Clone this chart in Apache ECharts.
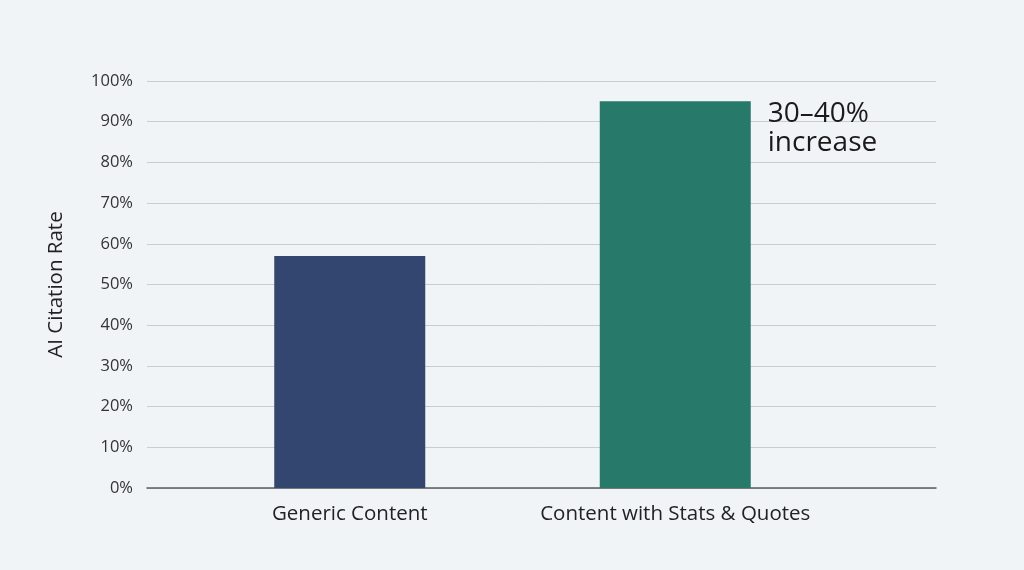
<!DOCTYPE html>
<html>
<head>
<meta charset="utf-8">
<script src="https://cdn.jsdelivr.net/npm/echarts@6/dist/echarts.min.js"></script>
<style>
html,body{margin:0;padding:0;background:#f1f4f7;}
#c{width:1024px;height:570px;}
</style>
</head>
<body>
<div id="c"></div>
<script>
const categories = ['Generic Content', 'Content with Stats & Quotes'];
const values = [57, 95];
const barColors = ['#33466f', '#27796a'];
const yTicks = { min: 0, max: 100, interval: 10 };
const annotation = '30–40%\nincrease';
const yName = 'AI Citation Rate';

const font = '"Open Sans", Lato, sans-serif';
const chart = echarts.init(document.getElementById('c'));
chart.setOption({
  backgroundColor: '#f1f4f7',
  animation: false,
  grid: [
    { left: 147, right: 88, top: 81, bottom: 82 },
    { left: 187, right: 186, top: 81, bottom: 82 }
  ],
  xAxis: [
    { gridIndex: 0, type: 'category', data: [''], axisTick: { show: false }, axisLabel: { show: false },
      axisLine: { lineStyle: { color: '#5a5d63', width: 1.5 } } },
    { gridIndex: 1, type: 'category', data: categories, axisTick: { show: false },
      axisLine: { show: false },
      axisLabel: { interval: 0, hideOverlap: false, color: '#222', fontSize: 20.5, fontFamily: font, margin: 16 } }
  ],
  yAxis: [
    { gridIndex: 0, type: 'value', min: yTicks.min, max: yTicks.max, interval: yTicks.interval,
      axisLabel: { formatter: '{value}%', color: '#333', fontSize: 16.5, fontFamily: font, margin: 14 },
      axisLine: { show: false }, axisTick: { show: false },
      splitLine: { lineStyle: { color: '#c9cdd3', width: 1 } },
      name: yName, nameLocation: 'middle', nameGap: 80,
      nameTextStyle: { color: '#222', fontSize: 20.5, fontFamily: font } },
    { gridIndex: 1, type: 'value', min: yTicks.min, max: yTicks.max, interval: yTicks.interval,
      show: false, splitLine: { show: false } }
  ],
  series: [{
    type: 'bar',
    xAxisIndex: 1, yAxisIndex: 1,
    barWidth: 151,
    data: values.map((v, i) => ({
      value: v,
      itemStyle: { color: barColors[i] },
      label: i === 1 ? {
        show: true, formatter: annotation, position: [168, -2],
        color: '#1a1a1a', fontSize: 28, lineHeight: 29, fontFamily: font, align: 'left', verticalAlign: 'top'
      } : { show: false }
    }))
  }]
});
</script>
</body>
</html>
